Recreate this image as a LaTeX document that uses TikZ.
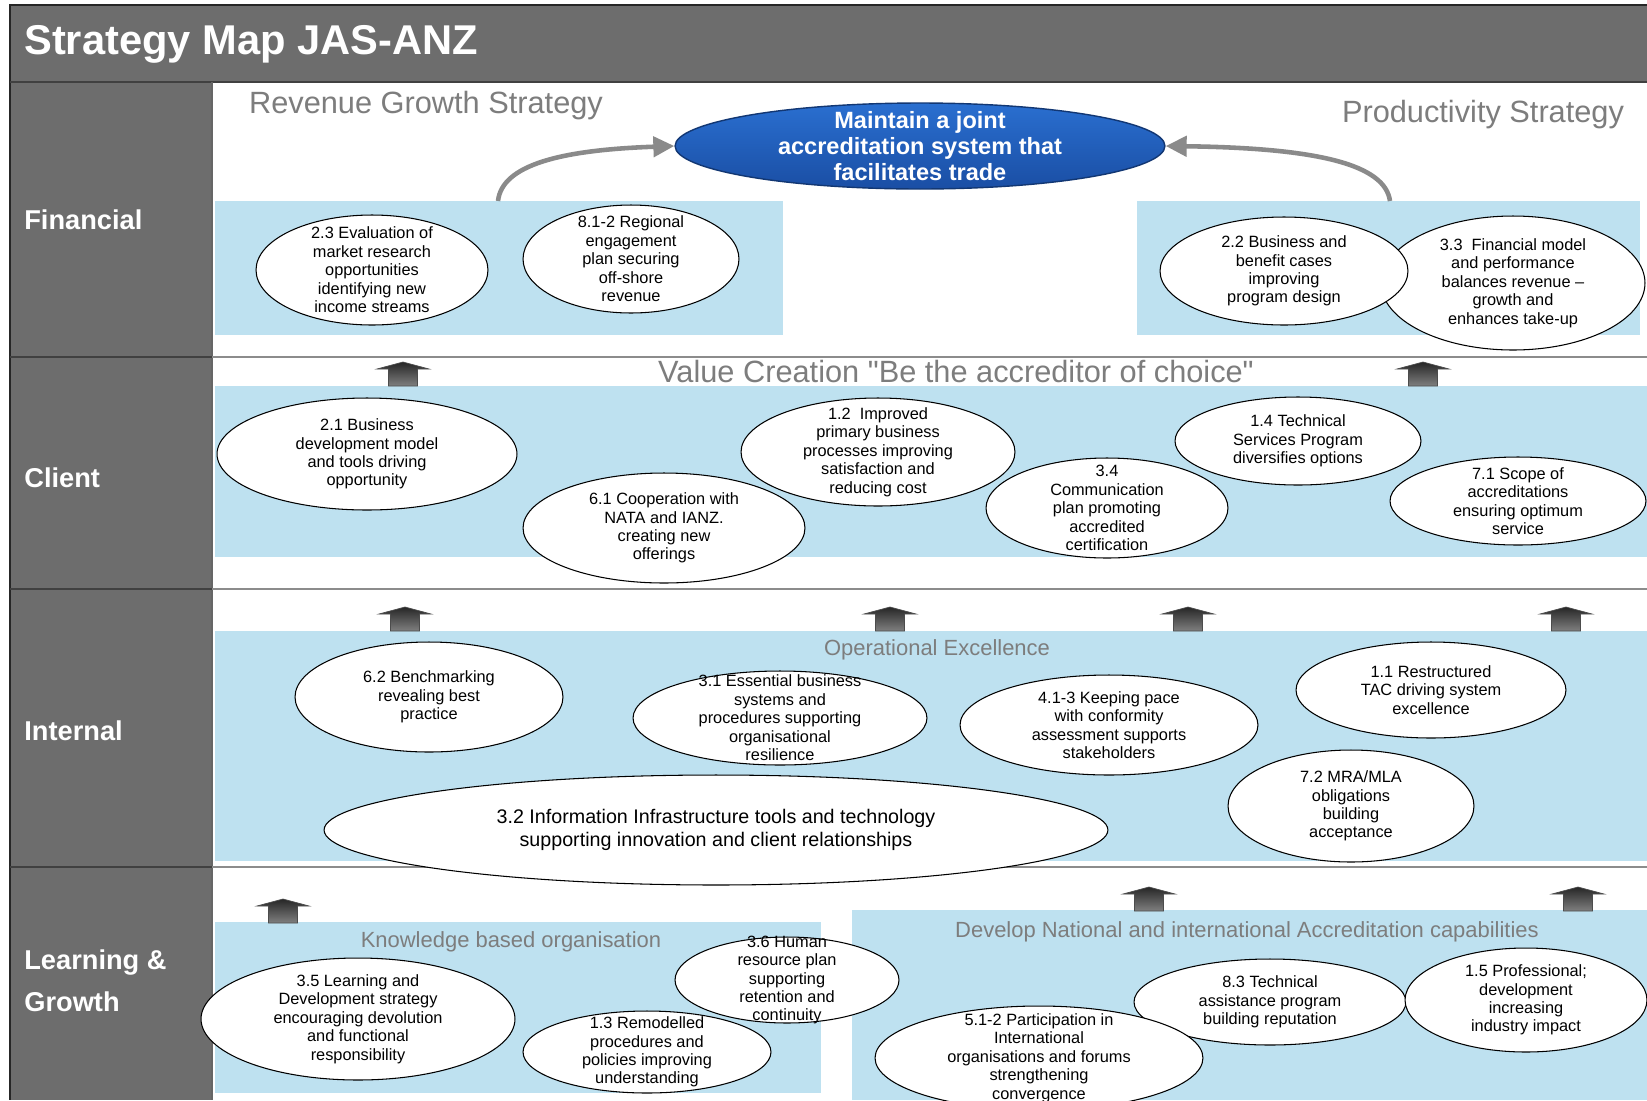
\documentclass[tikz,border=0pt]{standalone}
\usepackage{fontspec}
\setmainfont{Liberation Sans}[Ligatures=TeXOff]
\usepackage{tikz}
\usetikzlibrary{shapes,arrows.meta,positioning}
\usepackage{xcolor}

\definecolor{panelgray}{HTML}{6D6D6D}
\definecolor{bandblue}{HTML}{BEE1F0}
\definecolor{headgray}{HTML}{7D7D7D}
\definecolor{arrgray}{HTML}{8A8A8A}
\definecolor{goaltop}{HTML}{2A6FD0}
\definecolor{goalmid}{HTML}{3B8DE6}
\definecolor{goalbot}{HTML}{1A4EA4}

\begin{document}
\begin{tikzpicture}[x=0.02cm, y=-0.02cm,
    obj/.style={ellipse, draw=black, line width=0.6pt, fill=white, inner xsep=0pt, inner ysep=-20pt,
        align=center, font=\fontsize{9.3}{10.5}\selectfont},
    goalobj/.style={ellipse, draw=goalbot!70!black, line width=0.8pt, top color=goaltop, middle color=goalmid,
        bottom color=goalbot, inner xsep=0pt, inner ysep=-12pt, align=center, text=white,
        font=\fontsize{13.4}{14.8}\selectfont\bfseries},
    rowlbl/.style={anchor=west, inner sep=0pt, text=white, align=left, font=\fontsize{15.5}{24}\selectfont\bfseries},
    head/.style={inner sep=0pt, text=headgray, font=\fontsize{17.5}{20}\selectfont},
    subhead/.style={inner sep=0pt, text=headgray, font=\fontsize{12.5}{15}\selectfont},
    blockup/.style={top color=black!85, bottom color=black!50, draw=black!70, line width=0.4pt},
    flowarr/.style={draw=arrgray, line width=2.6pt, -{Triangle[length=0.42cm,width=0.4cm]}},
    band/.style={fill=bandblue}]
    \useasboundingbox (0,0) rectangle (1647,1100);

    % frame and row panels
    \fill[white] (0,0) rectangle (1647,1100);
    \fill[panelgray] (10,5) rectangle (1647,82);
    \fill[panelgray] (10,82) rectangle (212,1100);
    \draw[black!85, line width=0.8pt] (1647,5) -- (10,5) -- (10,1100);
    \draw[black!75, line width=0.8pt] (10,82) -- (1647,82);
    \draw[black!60, line width=0.8pt] (212,82) -- (212,1100);
    \foreach \yy in {357,589,867} {
        \draw[black!75, line width=1pt] (10,\yy) -- (212,\yy);
        \draw[black!45, line width=1.2pt] (212,\yy) -- (1647,\yy);
    }

    \node[anchor=west, inner sep=0pt, text=white, font=\fontsize{23.7}{28}\selectfont\bfseries] (title) at (24,44) {Strategy Map JAS-ANZ};

    \node[rowlbl] (rfin) at (24,220) {Financial};
    \node[rowlbl] (rcli) at (24,478) {Client};
    \node[rowlbl] (rint) at (24,731) {Internal};
    \node[rowlbl] (rlrn) at (24,981) {Learning \&\\Growth};

    % blue bands
    \fill[band] (215,201) rectangle (783,335);
    \fill[band] (1137,201) rectangle (1640,335);
    \fill[band] (215,386) rectangle (1647,557);
    \fill[band] (215,631) rectangle (1647,861);
    \fill[band] (215,922) rectangle (821,1093);
    \fill[band] (852,910) rectangle (1647,1100);

    % headings
    \node[head] (revhd) at (426,106) {Revenue Growth Strategy};
    \node[head] (prodhd) at (1483,115) {Productivity Strategy};
    \node[head] (valhd) at (956,371) {Value Creation "Be the accreditor of choice"};
    \node[subhead] (ophd) at (937,650) {Operational Excellence};
    \node[subhead] (knowhd) at (511,942) {Knowledge based organisation};
    \node[subhead] (devhd) at (1247,932) {Develop National and international Accreditation capabilities};

    % block arrows between rows
    \foreach \ax/\ay in {403/386, 1423/386, 405/631, 890/631, 1188/631, 1566/631, 283/923, 1149/911, 1578/911}
        \shadedraw[blockup] (\ax-14.5,\ay) -- (\ax-14.5,\ay-17) -- (\ax-26,\ay-17) -- (\ax,\ay-24)
            -- (\ax+26,\ay-17) -- (\ax+14.5,\ay-17) -- (\ax+14.5,\ay) -- cycle;

    % Financial
    \node[goalobj, minimum width=9.8cm, minimum height=1.72cm] (goal) at (920,146) {Maintain a joint\\accreditation system that\\facilitates trade};
    \node[obj, minimum width=4.64cm, minimum height=2.2cm] (o23) at (372,270) {2.3 Evaluation of\\market research\\opportunities\\identifying new\\income streams};
    \node[obj, minimum width=4.32cm, minimum height=2.16cm] (o812) at (631,259) {8.1-2 Regional\\engagement\\plan securing\\off-shore\\revenue};
    \node[obj, minimum width=5.28cm, minimum height=2.68cm] (o33) at (1513,283) {3.3~~Financial model\\and performance\\balances revenue \textendash\\growth and\\enhances take-up};
    \node[obj, minimum width=4.96cm, minimum height=2.16cm] (o22) at (1284,271) {2.2 Business and\\benefit cases\\improving\\program design};

    \coordinate (revfoot) at (498,201);
    \coordinate (prodfoot) at (1390,201);
    \draw[flowarr] (revfoot) .. controls (502,165) and (560,150) .. (goal.west);
    \draw[flowarr] (prodfoot) .. controls (1385,165) and (1320,148) .. (goal.east);

    % Client
    \node[obj, minimum width=6cm, minimum height=2.24cm] (o21) at (367,454) {2.1 Business\\development model\\and tools driving\\opportunity};
    \node[obj, minimum width=5.48cm, minimum height=2.16cm] (o12) at (878,452) {1.2~~Improved\\primary business\\processes improving\\satisfaction and\\reducing cost};
    \node[obj, minimum width=5.64cm, minimum height=2.2cm] (o61) at (664,528) {6.1 Cooperation with\\NATA and IANZ.\\creating new\\offerings};
    \node[obj, minimum width=4.92cm, minimum height=1.76cm] (o14) at (1298,441) {1.4 Technical\\Services Program\\diversifies options};
    \node[obj, minimum width=4.84cm, minimum height=2cm] (o34) at (1107,508) {3.4\\Communication\\plan promoting\\accredited\\certification};
    \node[obj, minimum width=5.12cm, minimum height=1.76cm] (o71) at (1518,501) {7.1 Scope of\\accreditations\\ensuring optimum\\service};

    % Internal
    \node[obj, minimum width=5.36cm, minimum height=2.2cm] (o62) at (429,697) {6.2 Benchmarking\\revealing best\\practice};
    \node[obj, minimum width=5.88cm, minimum height=1.88cm] (o31) at (780,718) {3.1 Essential business\\systems and\\procedures supporting\\organisational\\resilience};
    \node[obj, minimum width=5.96cm, minimum height=2cm] (o413) at (1109,725) {4.1-3 Keeping pace\\with conformity\\assessment supports\\stakeholders};
    \node[obj, minimum width=5.4cm, minimum height=1.92cm] (o11) at (1431,690) {1.1 Restructured\\TAC driving system\\excellence};
    \node[obj, minimum width=4.92cm, minimum height=2.24cm] (o72) at (1351,806) {7.2 MRA/MLA\\obligations\\building\\acceptance};
    \node[obj, minimum width=15.68cm, minimum height=2.2cm, font=\fontsize{11.2}{12.8}\selectfont] (o32) at (716,830) {3.2 Information Infrastructure tools and technology\\supporting innovation and client relationships};

    % Learning & Growth
    \node[obj, minimum width=6.28cm, minimum height=2.44cm] (o35) at (358,1019) {3.5 Learning and\\Development strategy\\encouraging devolution\\and functional\\responsibility};
    \node[obj, minimum width=4.48cm, minimum height=1.72cm] (o36) at (787,980) {3.6 Human\\resource plan\\supporting\\retention and\\continuity};
    \node[obj, minimum width=4.96cm, minimum height=1.64cm] (o13) at (647,1052) {1.3 Remodelled\\procedures and\\policies improving\\understanding};
    \node[obj, minimum width=5.44cm, minimum height=1.72cm] (o83) at (1270,1002) {8.3 Technical\\assistance program\\building reputation};
    \node[obj, minimum width=6.56cm, minimum height=2.08cm] (o512) at (1039,1058) {5.1-2 Participation in\\International\\organisations and forums\\strengthening\\convergence};
    \node[obj, minimum width=4.84cm, minimum height=2.08cm] (o15) at (1526,1000) {1.5 Professional;\\development\\increasing\\industry impact};
\end{tikzpicture}
\end{document}
